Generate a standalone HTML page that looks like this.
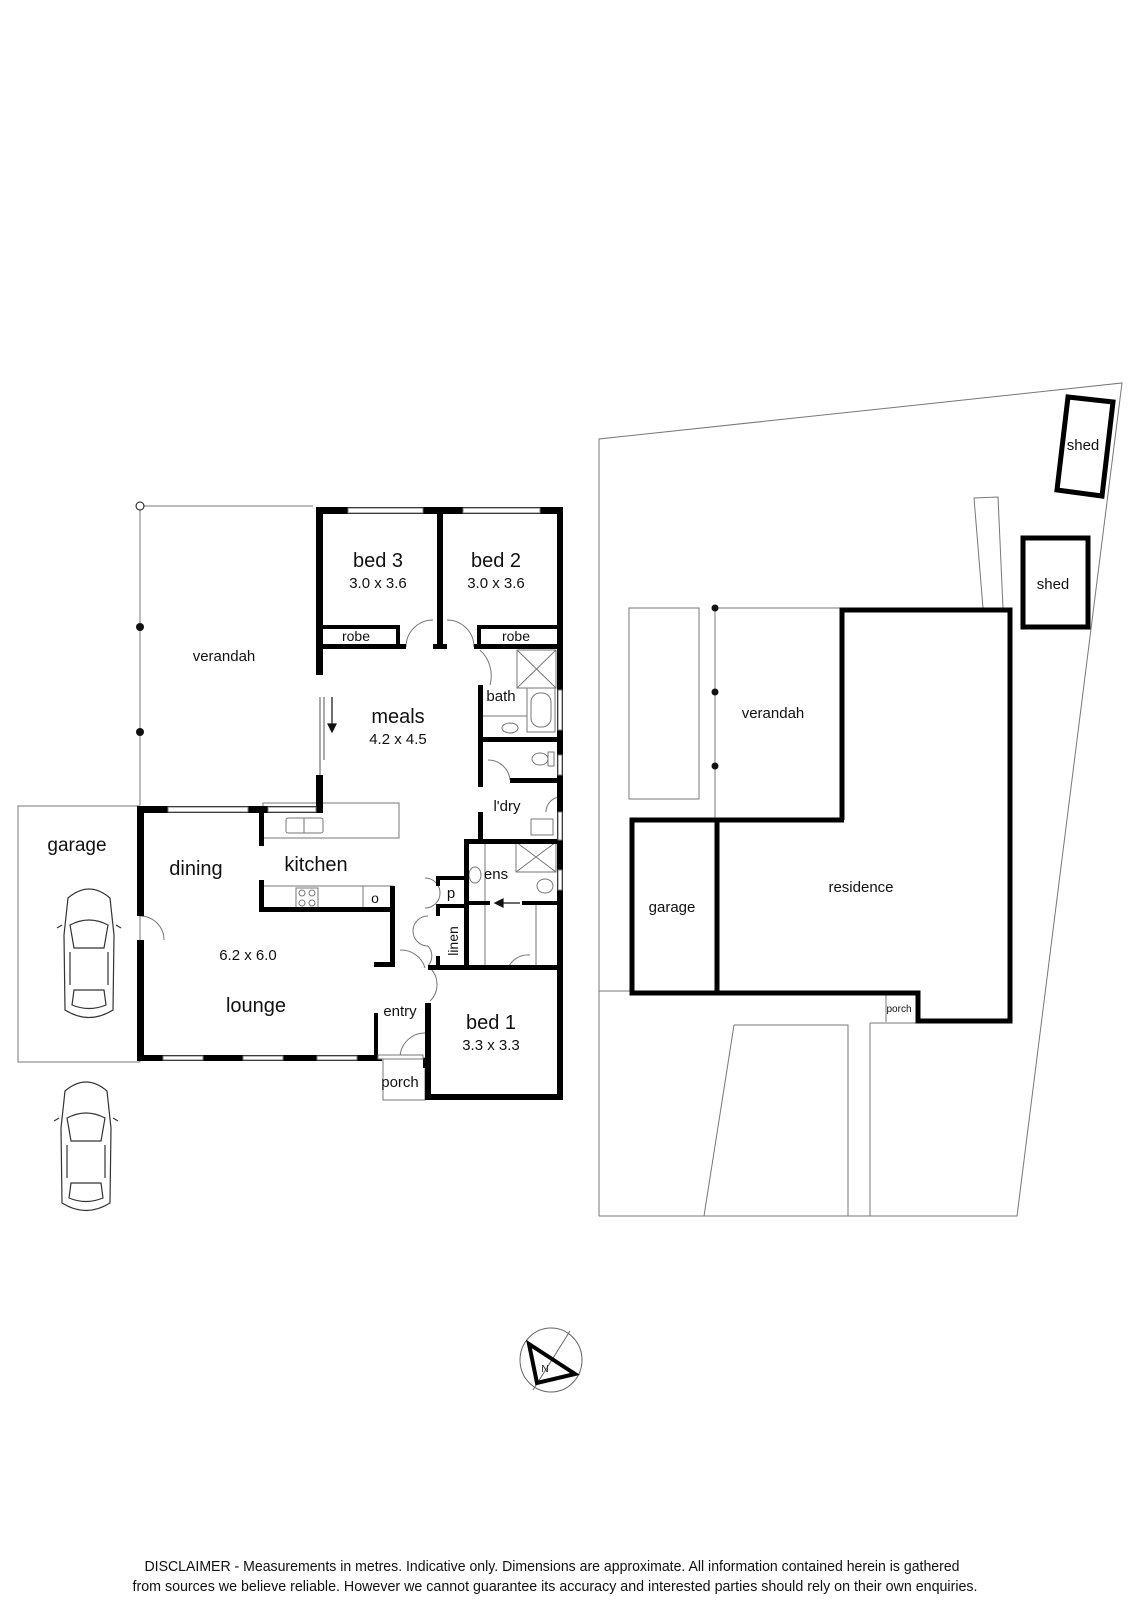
<!DOCTYPE html>
<html><head><meta charset="utf-8"><style>
html,body{margin:0;padding:0;background:#fff;}
svg{display:block;}
text{font-family:"Liberation Sans Narrow","Liberation Sans",sans-serif;fill:#111;}
</style></head><body>
<svg width="1131" height="1600" viewBox="0 0 1131 1600" xmlns="http://www.w3.org/2000/svg">
<g fill="none" stroke="#777" stroke-width="1">
  <polyline points="313,506 140,506 140,805"/>
  <rect x="18" y="806" width="122" height="256"/>
  <rect x="263" y="803" width="136" height="35"/>
  <rect x="263" y="886" width="130" height="23"/>
  <line x1="363" y1="886" x2="363" y2="909"/>
  <rect x="383" y="1058" width="42" height="42"/>
  <rect x="517" y="650" width="39" height="38"/>
  <line x1="517" y1="650" x2="556" y2="688"/><line x1="556" y1="650" x2="517" y2="688"/>
  <rect x="527" y="688" width="28" height="44"/>
  <rect x="531" y="693" width="20" height="34" rx="9"/>
  <line x1="480" y1="716" x2="527" y2="716"/>
  <ellipse cx="510" cy="728" rx="8" ry="5"/>
  <ellipse cx="540" cy="759" rx="8" ry="6"/>
  <rect x="548" y="752" width="6" height="14"/>
  <rect x="516" y="842" width="40" height="30"/>
  <line x1="516" y1="842" x2="556" y2="872"/><line x1="556" y1="842" x2="516" y2="872"/>
  <ellipse cx="475" cy="875" rx="6" ry="8"/>
  <ellipse cx="545" cy="886" rx="8" ry="7"/>
  <rect x="531" y="819" width="22" height="16"/>
  <line x1="485" y1="840" x2="485" y2="965"/>
  <line x1="536" y1="903" x2="536" y2="965"/>
  <rect x="286" y="818" width="37" height="15" rx="2"/>
  <line x1="304" y1="818" x2="304" y2="833"/>
  <rect x="296" y="888" width="22" height="20"/>
  <circle cx="302" cy="893" r="3"/><circle cx="312" cy="893" r="3"/><circle cx="302" cy="903" r="3"/><circle cx="312" cy="903" r="3"/>
  <path d="M406,647 A27,27 0 0 1 433,620"/><path d="M447,620 A27,27 0 0 1 474,647"/>
  <path d="M480,650 A35,35 0 0 1 490,685"/>
  <path d="M488,760 A22,22 0 0 1 510,780"/>
  <path d="M546,812 A15,15 0 0 1 560,797"/>
  <path d="M140,916 A24,24 0 0 1 164,940"/>
  <path d="M425,878 A15,15 0 0 1 425,908"/>
  <path d="M428,916 A15,15 0 0 0 428,946"/><path d="M428,946 A15,15 0 0 1 428,966"/>
  <path d="M400,950 A25,25 0 0 1 425,968"/>
  <path d="M430,968 A23,23 0 0 1 430,1001"/>
  <path d="M508,968 A22,22 0 0 1 530,955"/>
  <path d="M400,1058 A25,25 0 0 1 425,1033"/>
  <line x1="320" y1="697" x2="320" y2="775" stroke="#555"/>
  <line x1="324" y1="697" x2="324" y2="760" stroke="#555"/>
</g>
<g fill="#111">
  <circle cx="140" cy="506" r="4" fill="#fff" stroke="#111"/>
  <circle cx="140" cy="627" r="4"/><circle cx="140" cy="732" r="4"/>
</g>
<g fill="#000">
  <rect x="316" y="507" width="247" height="7"/>
  <rect x="316" y="507" width="7" height="168"/>
  <rect x="437" y="507" width="6" height="140"/>
  <rect x="557" y="507" width="6" height="593"/>
  <rect x="316" y="644" width="90" height="5"/>
  <rect x="433" y="644" width="14" height="5"/>
  <rect x="474" y="644" width="86" height="5"/>
  <rect x="323" y="625" width="76" height="4"/><rect x="396" y="625" width="4" height="20"/>
  <rect x="477" y="625" width="80" height="4"/><rect x="477" y="625" width="4" height="20"/>
  <rect x="478" y="685" width="5" height="55"/>
  <rect x="478" y="737" width="82" height="5"/>
  <rect x="478" y="742" width="5" height="45"/>
  <rect x="510" y="778" width="50" height="5"/>
  <rect x="478" y="812" width="5" height="28"/>
  <rect x="464" y="839" width="96" height="5"/>
  <rect x="464" y="839" width="5" height="128"/>
  <rect x="464" y="901" width="26" height="4"/><rect x="522" y="901" width="38" height="4"/>
  <rect x="436" y="876" width="30" height="4"/><rect x="436" y="876" width="4" height="10"/>
  <rect x="436" y="904" width="30" height="4"/><rect x="436" y="904" width="4" height="12"/>
  <rect x="436" y="956" width="4" height="12"/>
  <rect x="428" y="965" width="135" height="5"/>
  <rect x="425" y="1003" width="6" height="97"/>
  <rect x="425" y="1094" width="138" height="6"/>
  <rect x="316" y="775" width="7" height="38"/>
  <rect x="137" y="806" width="186" height="7"/>
  <rect x="259" y="806" width="5" height="40"/>
  <rect x="259" y="880" width="5" height="31"/>
  <rect x="259" y="907" width="136" height="5"/>
  <rect x="390" y="886" width="5" height="80"/>
  <rect x="374" y="962" width="21" height="5"/>
  <rect x="137" y="806" width="7" height="110"/>
  <rect x="137" y="940" width="7" height="121"/>
  <rect x="137" y="1055" width="245" height="6"/>
  <rect x="374" y="1013" width="4" height="45"/>
  <rect x="423" y="1058" width="5" height="10"/>
</g>
<g fill="#fff" stroke="#777" stroke-width="1">
  <rect x="348" y="508" width="75" height="5"/><rect x="463" y="508" width="77" height="5"/>
  <rect x="168" y="807" width="80" height="5"/><rect x="268" y="807" width="48" height="5"/>
  <rect x="163" y="1056" width="40" height="4"/><rect x="243" y="1056" width="40" height="4"/><rect x="317" y="1056" width="40" height="4"/>
  <rect x="558" y="690" width="4" height="40"/><rect x="558" y="755" width="4" height="20"/>
  <rect x="558" y="812" width="4" height="28"/><rect x="558" y="870" width="4" height="20"/>
  <rect x="378" y="1055" width="45" height="4"/>
</g>
<g stroke="#111" stroke-width="1.2" fill="#111">
  <line x1="332" y1="697" x2="332" y2="728"/><path d="M328,724 L332,732 L336,724 Z"/>
  <line x1="520" y1="903" x2="500" y2="903"/><path d="M503,899 L495,903 L503,907 Z"/>
</g>
<text x="224" y="661" font-size="15" text-anchor="middle">verandah</text>
<text x="378" y="567" font-size="20" text-anchor="middle">bed 3</text>
<text x="378" y="588" font-size="15" text-anchor="middle">3.0 x 3.6</text>
<text x="496" y="567" font-size="20" text-anchor="middle">bed 2</text>
<text x="496" y="588" font-size="15" text-anchor="middle">3.0 x 3.6</text>
<text x="356" y="641" font-size="14" text-anchor="middle">robe</text>
<text x="516" y="641" font-size="14" text-anchor="middle">robe</text>
<text x="501" y="701" font-size="15" text-anchor="middle">bath</text>
<text x="398" y="723" font-size="20" text-anchor="middle">meals</text>
<text x="398" y="744" font-size="15" text-anchor="middle">4.2 x 4.5</text>
<text x="507" y="811" font-size="15" text-anchor="middle">l'dry</text>
<text x="496" y="879" font-size="15" text-anchor="middle">ens</text>
<text x="451" y="898" font-size="15" text-anchor="middle">p</text>
<text x="453" y="941" font-size="14" text-anchor="middle" transform="rotate(-90 453 941)" dy="5">linen</text>
<text x="316" y="871" font-size="20" text-anchor="middle">kitchen</text>
<text x="196" y="875" font-size="20" text-anchor="middle">dining</text>
<text x="375" y="903" font-size="14" text-anchor="middle">o</text>
<text x="248" y="960" font-size="15" text-anchor="middle">6.2 x 6.0</text>
<text x="256" y="1012" font-size="20" text-anchor="middle">lounge</text>
<text x="400" y="1016" font-size="15" text-anchor="middle">entry</text>
<text x="400" y="1087" font-size="15" text-anchor="middle">porch</text>
<text x="491" y="1029" font-size="20" text-anchor="middle">bed 1</text>
<text x="491" y="1050" font-size="15" text-anchor="middle">3.3 x 3.3</text>
<text x="77" y="851" font-size="19" text-anchor="middle">garage</text>
<g fill="none" stroke="#333" stroke-width="1.2">
  <g>
    <path d="M68,898 Q89,880 110,898 L114,935 L113,1010 Q89,1025 65,1010 L64,935 Z"/>
    <path d="M70,925 Q89,915 108,925 L104,948 L74,948 Z"/>
    <path d="M74,990 L104,990 L106,1005 Q89,1012 72,1005 Z"/>
    <line x1="70" y1="952" x2="70" y2="985"/><line x1="108" y1="952" x2="108" y2="985"/>
    <line x1="62" y1="925" x2="57" y2="928"/><line x1="116" y1="925" x2="121" y2="928"/>
  </g>
  <g transform="translate(-3,193)">
    <path d="M68,898 Q89,880 110,898 L114,935 L113,1010 Q89,1025 65,1010 L64,935 Z"/>
    <path d="M70,925 Q89,915 108,925 L104,948 L74,948 Z"/>
    <path d="M74,990 L104,990 L106,1005 Q89,1012 72,1005 Z"/>
    <line x1="70" y1="952" x2="70" y2="985"/><line x1="108" y1="952" x2="108" y2="985"/>
    <line x1="62" y1="925" x2="57" y2="928"/><line x1="116" y1="925" x2="121" y2="928"/>
  </g>
</g>
<g fill="none" stroke="#777" stroke-width="1">
  <polyline points="599,1216 599,439 1122,383 1017,1216 599,1216"/>
  <polygon points="974,498 998,497 1003,608 983,608"/>
  <rect x="629" y="608" width="70" height="191"/>
  <line x1="715" y1="608" x2="842" y2="608"/>
  <line x1="715" y1="608" x2="715" y2="820"/>
  <line x1="599" y1="991" x2="632" y2="991"/>
  <line x1="886" y1="993" x2="886" y2="1022"/>
  <line x1="870" y1="1023" x2="918" y2="1023"/>
  <polyline points="870,1023 870,1216"/>
  <polyline points="734,1025 848,1025 848,1216"/>
  <line x1="734" y1="1025" x2="704" y2="1216"/>
</g>
<g fill="#111"><circle cx="715" cy="608" r="3.5"/><circle cx="715" cy="692" r="3.5"/><circle cx="715" cy="766" r="3.5"/></g>
<g fill="none" stroke="#000" stroke-width="5">
  <polygon points="1068,397 1113,402 1102,496 1057,490"/>
  <rect x="1023" y="538" width="65" height="89"/>
  <polyline points="842,820 842,610 1010,610 1010,1021 918,1021 918,993 632,993 632,820 844,820"/>
  <line x1="717" y1="820" x2="717" y2="993"/>
</g>
<text x="773" y="718" font-size="15" text-anchor="middle">verandah</text>
<text x="1083" y="450" font-size="15" text-anchor="middle">shed</text>
<text x="1053" y="589" font-size="15" text-anchor="middle">shed</text>
<text x="672" y="912" font-size="15" text-anchor="middle">garage</text>
<text x="861" y="892" font-size="15" text-anchor="middle">residence</text>
<text x="899" y="1012" font-size="10" text-anchor="middle">porch</text>
<g fill="none" stroke="#666" stroke-width="1">
  <ellipse cx="551" cy="1360" rx="31" ry="32"/>
  <line x1="570" y1="1331" x2="533" y2="1390"/>
</g>
<path d="M529,1344 L575,1374 L537,1383 Z" fill="none" stroke="#000" stroke-width="4"/>
<text x="545" y="1372" font-size="10" text-anchor="middle">N</text>
<text x="552" y="1571" font-size="15" text-anchor="middle" textLength="815" lengthAdjust="spacingAndGlyphs">DISCLAIMER - Measurements in metres. Indicative only. Dimensions are approximate. All information contained herein is gathered</text>
<text x="555" y="1591" font-size="15" text-anchor="middle" textLength="845" lengthAdjust="spacingAndGlyphs">from sources we believe reliable. However we cannot guarantee its accuracy and interested parties should rely on their own enquiries.</text>
</svg>
</body></html>
